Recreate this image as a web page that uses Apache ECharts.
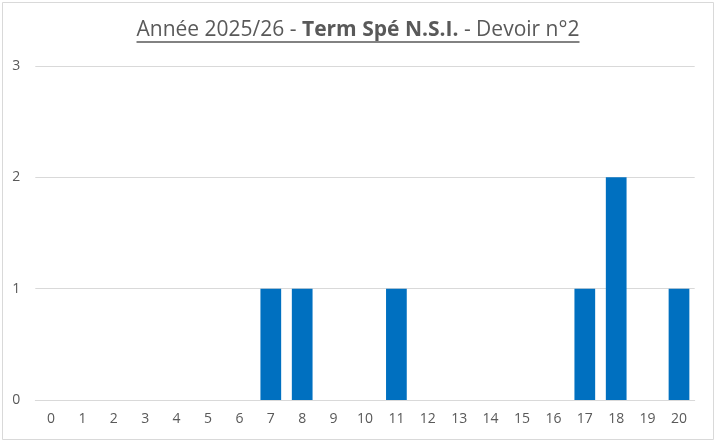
<!DOCTYPE html>
<html><head><meta charset="utf-8">
<script src="https://cdn.jsdelivr.net/npm/echarts@6/dist/echarts.min.js"></script>
<style>html,body{margin:0;padding:0;background:#fff}#c{width:716px;height:445px}</style>
</head><body><div id="c"></div>
<script>
const categories = ['0','1','2','3','4','5','6','7','8','9','10','11','12','13','14','15','16','17','18','19','20'];
const counts = [0,0,0,0,0,0,0,1,1,0,0,1,0,0,0,0,0,1,2,0,1];
const yTicks = [0,1,2,3];
const titleNormal1 = 'Année 2025/26 - ';
const titleBold = 'Term Spé N.S.I.';
const titleNormal2 = ' - Devoir n°2';

const chart = echarts.init(document.getElementById('c'), null, {renderer:'canvas'});
const FONT = '"Open Sans", "Noto Sans", sans-serif';
const TS = 21;
chart.setOption({
  animation:false,
  backgroundColor:'#fff',
  title:{
    left:'center', top:15,
    text:'{a|'+titleNormal1+'}{b|'+titleBold+'}{a|'+titleNormal2+'}',
    textStyle:{
      rich:{
        a:{fontFamily:FONT,fontSize:TS,color:'#595959',fontWeight:'normal'},
        b:{fontFamily:FONT,fontSize:TS,color:'#595959',fontWeight:'bold'}
      }
    }
  },
  grid:{left:35.3, right:21.3, top:66, bottom:45, containLabel:false},
  xAxis:{
    type:'category', data:categories,
    axisLine:{lineStyle:{color:'#D9D9D9',width:1}},
    axisTick:{show:false},
    axisLabel:{color:'#595959',fontFamily:FONT,fontSize:14,margin:12,interval:0}
  },
  yAxis:{
    type:'value', min:yTicks[0], max:yTicks[yTicks.length-1], interval:1,
    axisLine:{show:false}, axisTick:{show:false},
    splitLine:{lineStyle:{color:'#D9D9D9',width:1}},
    axisLabel:{color:'#595959',fontFamily:FONT,fontSize:14,margin:15}
  },
  series:[{
    type:'bar', data:counts, barCategoryGap:'34%',
    itemStyle:{color:'#0070C0'}
  }],
  graphic:[
    {type:'rect', shape:{x:2.5,y:2.5,width:711,height:437}, style:{fill:null,stroke:'#D9D9D9',lineWidth:1}, silent:true, z:-1},
    {type:'line', id:'ul', shape:{x1:136,y1:42,x2:580,y2:42}, style:{stroke:'#595959',lineWidth:1.5}, silent:true}
  ]
});
const ctx = document.createElement('canvas').getContext('2d');
ctx.font = 'normal '+TS+'px ' + FONT;
let w = ctx.measureText(titleNormal1).width + ctx.measureText(titleNormal2).width;
ctx.font = 'bold '+TS+'px ' + FONT;
w += ctx.measureText(titleBold).width;
const x0 = (716 - w)/2;
chart.setOption({graphic:[{},{id:'ul', shape:{x1:x0,y1:42,x2:x0+w,y2:42}}]});
</script></body></html>
